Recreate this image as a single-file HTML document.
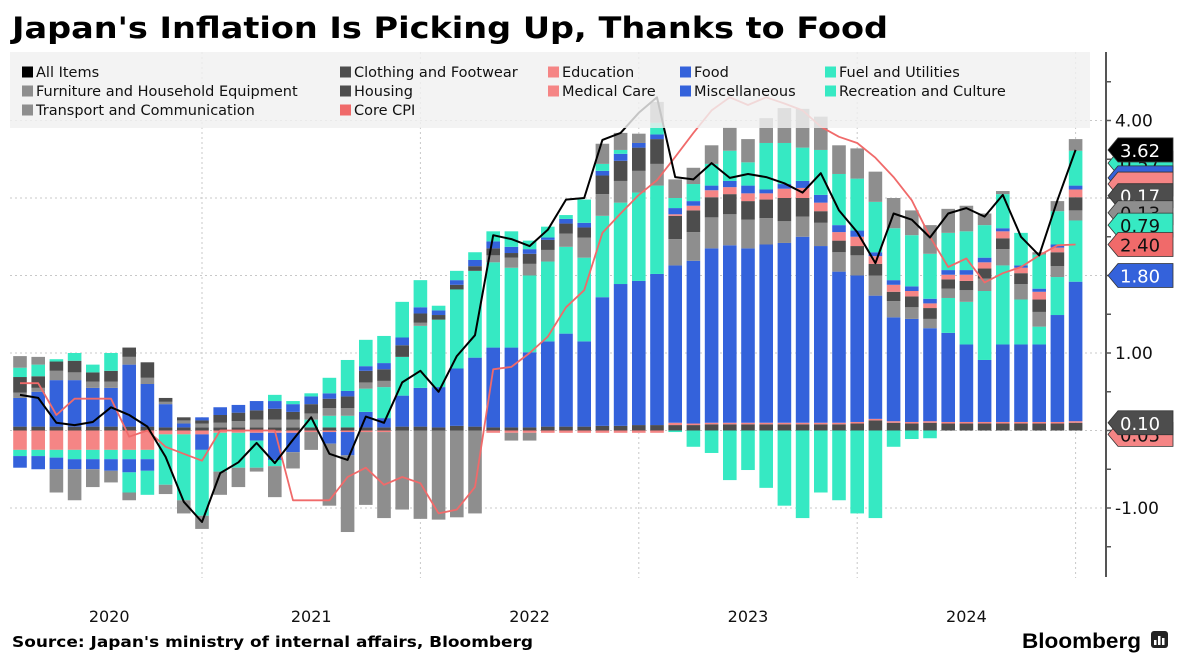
<!DOCTYPE html>
<html><head><meta charset="utf-8"><style>
html,body{margin:0;padding:0;background:#fff;}
svg{display:block;}
</style></head><body>
<svg id="chart" width="1185" height="664" viewBox="0 0 1185 664" xmlns="http://www.w3.org/2000/svg">
<rect x="0" y="0" width="1185" height="664" fill="#fff"/>
<text x="12" y="38" font-family="DejaVu Sans, sans-serif" font-weight="bold" font-size="29" textLength="876" lengthAdjust="spacingAndGlyphs" fill="#000">Japan's Inflation Is Picking Up, Thanks to Food</text>
<g id="grid"></g>
<g id="bars"></g>
<g id="lines"></g>
<g id="legend"></g>
<g id="axis"></g>
<g id="tags"></g>
<text x="12" y="647" font-family="DejaVu Sans, sans-serif" font-weight="bold" font-size="15" textLength="521" lengthAdjust="spacingAndGlyphs" fill="#000">Source: Japan's ministry of internal affairs, Bloomberg</text>
<text x="1022" y="648" font-family="Liberation Sans, sans-serif" font-weight="bold" font-size="21" textLength="119" lengthAdjust="spacingAndGlyphs" fill="#000">Bloomberg</text>
<g>
<rect x="1151" y="631" width="17" height="17" rx="3" fill="#222"/>
<rect x="1154" y="640" width="2.5" height="5" fill="#fff"/><rect x="1158" y="636" width="2.5" height="9" fill="#fff"/><rect x="1162" y="638" width="2.5" height="7" fill="#fff"/>
</g>
</svg>
<script>
const housing   =[.05,.05,.05,.05,.05,.05,.05,.05,.04,.04,.04,.04,.04,.04,.04,.04,.04,.04,.04,.04,.04,.05,.05,.04,.06,.05,.04,.04,.04,.05,.05,.05,.06,.06,.07,.07,.07,.07,.08,.08,.08,.08,.08,.08,.08,.08,.09,.13,.1,.09,.1,.09,.09,.09,.09,.09,.09,.09,.1];
const medical   =[0,0,0,0,0,0,0,0,0,0,0,0,0,0,0,0,0,0,0,0,0,0,0,0,0,0,0,0,0,0,0,0,0,0,0,0,.03,.02,.02,.02,.02,.02,.02,.02,.02,.02,.02,.02,.02,.02,.02,.02,.02,.02,.02,.02,.02,.02,.02];
const education =[-.25,-.25,-.25,-.25,-.25,-.25,-.25,-.25,-.05,-.05,-.05,-.03,-.03,-.03,-.03,-.03,-.02,-.02,-.02,-.02,-.02,0,0,0,0,0,-.03,-.03,-.03,-.03,-.03,-.03,-.03,-.03,-.03,-.03,.02,.06,.09,.09,.1,.08,.12,.13,.11,.11,.12,.1,.09,.07,.06,.06,.08,.08,.09,.07,.1,.06,.1];
const food      =[.37,.45,.6,.6,.5,.5,.8,.55,.3,.05,-.2,0,0,-.1,-.35,-.25,0,-.15,-.3,.2,.12,.4,.5,.52,.74,.89,1.03,1.03,.97,1.1,1.2,1.1,1.66,1.83,1.86,1.95,2.03,2.1,2.25,2.29,2.25,2.3,2.32,2.4,2.28,1.95,1.89,1.59,1.34,1.33,1.2,1.15,1.0,.8,1.0,1.0,1.0,1.38,1.8];
const fuel      =[-.08,-.08,-.1,-.12,-.12,-.12,-.12,-.12,-.65,-.85,-.85,-.5,-.45,-.35,-.08,0,.1,.15,.15,.3,.4,.5,.8,.87,1.02,1.12,1.1,1.03,.99,1.03,1.12,1.08,1.05,1.05,1.14,1.14,-.02,-.21,-.29,-.64,-.51,-.74,-.97,-1.13,-.8,-.9,-1.07,-1.13,-.21,-.11,-.1,.45,.55,.89,1.02,.58,.23,.49,.79];
const furniture =[.07,.05,.12,.1,.08,.08,.1,.08,.03,.04,.05,.06,.08,.1,.1,.1,.08,.1,.1,.08,.08,0,.04,0,0,0,.09,.13,.15,.15,.17,.26,.28,.28,.28,.28,.34,.37,.4,.4,.37,.34,.28,.26,.3,.25,.26,.26,.21,.15,.12,.12,.15,.16,.21,.2,.19,.14,.13];
const clothing  =[.2,.15,.12,.15,.12,.14,.12,.2,.05,.04,.04,.1,.11,.12,.14,.1,.12,.12,.15,.15,.15,.15,.12,.06,.06,.06,.09,.06,.13,.13,.13,.13,.24,.26,.3,.32,.3,.28,.26,.26,.24,.24,.3,.24,.15,.15,.12,.15,.12,.14,.14,.12,.12,.13,.14,.14,.16,.18,.17];
const misc      =[-.15,-.17,-.15,-.13,-.13,-.15,-.17,-.15,0,0,.04,.1,.1,.12,.1,.1,.1,.07,.07,.06,.08,.1,.08,.06,.06,.08,.09,.08,.06,.03,.06,.06,.06,.09,.06,.06,.08,.06,.06,.08,.1,.05,.06,.09,.1,.09,.08,.05,.06,.06,.06,.06,.06,.06,.04,.03,.04,.04,.05];
const recreation=[.12,.15,.03,.1,.1,.23,-.26,-.31,0,0,0,0,0,0,.08,.04,.04,.2,.4,.34,.35,.46,.35,.06,.12,.1,.13,.2,.11,.14,.05,.3,.09,.05,0,.15,.13,.22,.28,.39,.3,.6,.53,.43,.58,.66,.67,.65,.67,.66,.58,.48,.5,.42,.44,.42,.44,.43,.45];
const transport =[.15,.1,-.3,-.4,-.23,-.15,-.1,0,-.12,-.17,-.17,-.3,-.25,-.05,-.4,-.21,-.23,-.8,-.99,-.94,-1.11,-1.02,-1.14,-1.15,-1.12,-1.07,0,-.1,-.1,0,0,0,.26,.22,.12,.27,.24,.21,.24,.3,.3,.32,.45,.5,.43,.37,.39,.39,.39,.32,.37,.31,.33,.15,.04,0,.03,.13,.15];
const allItems  =[.46,.42,.1,.07,.11,.3,.2,.05,-.34,-.92,-1.18,-.55,-.41,-.16,-.42,-.12,.17,-.3,-.38,.18,.1,.62,.77,.5,.96,1.23,2.52,2.47,2.38,2.59,2.98,3.0,3.75,3.84,4.1,4.3,3.27,3.24,3.45,3.26,3.31,3.27,3.19,3.07,3.32,2.84,2.56,2.16,2.8,2.72,2.49,2.8,2.87,2.76,3.04,2.5,2.26,2.97,3.62];
const coreCPI   =[.61,.61,.2,.41,.41,.41,-.08,0,-.21,-.3,-.39,0,0,0,0,-.9,-.9,-.9,-.6,-.48,-.7,-.6,-.68,-1.07,-1.02,-.73,.79,.82,1.0,1.21,1.59,1.81,2.55,2.8,3.04,3.23,3.53,3.84,4.13,4.3,4.2,4.3,4.22,4.13,3.92,3.79,3.71,3.52,3.27,2.97,2.5,2.11,2.22,1.91,2.03,2.11,2.26,2.39,2.4];
const yearLabels=['2020','2021','2022','2023','2024'];
const yearLabelIdx=[4.9,16,28,40,52];
const yearTickIdx=[10,22,34,46,58];
const yTickLabels=['4.00','3.00','2.00','1.00','0.00','-1.00'];
const yTickValues=[4,3,2,1,0,-1];
const tagTexts=['0.05','0.10','0.57','','','0.17','0.13','0.79','2.40','1.80','3.62'];
const tagValues=[-0.05,0.10,3.45,3.26,3.18,3.03,2.81,2.65,2.40,2.00,3.62];

const NS='http://www.w3.org/2000/svg';
const C={black:'#000',grey:'#8e8e8e',dark:'#4d4d4d',salmon:'#f58585',core:'#f06a6a',blue:'#3462db',teal:'#36e9c3'};
const X0=20, DX=18.2, BW=13.6, Y0=430.5, K=77.5;
function xOf(i){return X0+i*DX;}
function yOf(v){return Y0-v*K;}
function mk(tag,attrs,parent){const e=document.createElementNS(NS,tag);for(const k in attrs)e.setAttribute(k,attrs[k]);parent.appendChild(e);return e;}

const series=[
 {name:'housing',data:housing,color:C.dark},
 {name:'medical-care',data:medical,color:C.salmon},
 {name:'education',data:education,color:C.salmon},
 {name:'food',data:food,color:C.blue},
 {name:'fuel-and-utilities',data:fuel,color:C.teal},
 {name:'furniture',data:furniture,color:C.grey},
 {name:'clothing',data:clothing,color:C.dark},
 {name:'miscellaneous',data:misc,color:C.blue},
 {name:'recreation',data:recreation,color:C.teal},
 {name:'transport',data:transport,color:C.grey}];
const posOrder=['housing','medical-care','food','fuel-and-utilities','furniture','clothing','education','miscellaneous','recreation','transport'];
const negOrder=['housing','medical-care','education','food','fuel-and-utilities','furniture','clothing','miscellaneous','recreation','transport'];
const byName={};series.forEach(s=>byName[s.name]=s);

// grid
const grid=document.getElementById('grid');
yTickValues.forEach(v=>{
 const l=mk('line',{x1:10,x2:1105,y1:yOf(v),y2:yOf(v),stroke:'#c8c8c8','stroke-width':1,'stroke-dasharray':'2,3'},grid);
 
 
});
yearTickIdx.forEach(i=>{
 const l=mk('line',{x1:xOf(i),x2:xOf(i),y1:52,y2:578,stroke:'#c8c8c8','stroke-width':1,'stroke-dasharray':'2,3'},grid);
 
 
});
yearLabels.forEach((t,k)=>{
 const e=mk('text',{x:xOf(yearLabelIdx[k]),y:622,'text-anchor':'middle','font-family':'DejaVu Sans, sans-serif','font-size':16,fill:'#111'},grid);
 e.textContent=t;
 
 
});

// bars
const bars=document.getElementById('bars');
for(let i=0;i<housing.length;i++){
 let pb=0;
 posOrder.forEach(n=>{const v=byName[n].data[i]; if(v>0){
  const r=mk('rect',{x:xOf(i)-BW/2,y:yOf(pb+v),width:BW,height:v*K,fill:byName[n].color},bars);
  
  
  pb+=v;}});
 let nb=0;
 negOrder.forEach(n=>{const v=byName[n].data[i]; if(v<0){
  const r=mk('rect',{x:xOf(i)-BW/2,y:yOf(nb),width:BW,height:-v*K,fill:byName[n].color},bars);
  
  
  nb+=v;}});
}

// lines
const lines=document.getElementById('lines');
function path(data){return data.map((v,i)=>(i?'L':'M')+xOf(i).toFixed(1)+','+yOf(v).toFixed(1)).join(' ');}
const cl=mk('path',{d:path(coreCPI),fill:'none',stroke:C.core,'stroke-width':1.8,'stroke-linejoin':'round'},lines);


const al=mk('path',{d:path(allItems),fill:'none',stroke:'#000','stroke-width':2,'stroke-linejoin':'round'},lines);



// legend
const lg=document.getElementById('legend');
const lbg=mk('rect',{x:10,y:52,width:1080,height:76,fill:'#f0f0f0','fill-opacity':0.82},lg);


const legendItems=[
 ['All Items',C.black,22,72],['Clothing and Footwear',C.dark,340,72],['Education',C.salmon,548,72],['Food',C.blue,680,72],['Fuel and Utilities',C.teal,825,72],
 ['Furniture and Household Equipment',C.grey,22,91],['Housing',C.dark,340,91],['Medical Care',C.salmon,548,91],['Miscellaneous',C.blue,680,91],['Recreation and Culture',C.teal,825,91],
 ['Transport and Communication',C.grey,22,110],['Core CPI',C.core,340,110]];
legendItems.forEach(it=>{
 const g=mk('g',{},lg);
 
 
 mk('rect',{x:it[2],y:it[3]-5.5,width:11,height:11,fill:it[1]},g);
 const t=mk('text',{x:it[2]+14,y:it[3]+5,'font-family':'DejaVu Sans, sans-serif','font-size':14.5,fill:'#111'},g);
 t.textContent=it[0];
});

// axis
const ax=document.getElementById('axis');
mk('line',{x1:1106,x2:1106,y1:52,y2:577,stroke:'#555','stroke-width':2},ax);
[4.5,4,3.5,3,2.5,2,1.5,1,.5,0,-.5,-1,-1.5].forEach(v=>{
 mk('line',{x1:1106,x2:1111,y1:yOf(v),y2:yOf(v),stroke:'#555','stroke-width':1.5},ax);
});
yTickLabels.forEach((t,k)=>{
 const e=mk('text',{x:1115,y:yOf(yTickValues[k])+6,'font-family':'DejaVu Sans, sans-serif','font-size':17,fill:'#111'},ax);
 e.textContent=t;
 
 
});

// value tags
const tg=document.getElementById('tags');
const tagColors=[C.salmon,'#4d4d4d',C.teal,C.blue,C.salmon,'#4d4d4d','#8e8e8e',C.teal,C.core,C.blue,'#000'];
const tagTextColors=['#111','#fff','#111','#fff','#111','#fff','#111','#111','#111','#fff','#fff'];
tagTexts.forEach((t,k)=>{
 const y=yOf(tagValues[k]);
 const g=mk('g',{},tg);
 
 
 mk('path',{d:`M1108,${y} L1118,${y-12} L1173,${y-12} L1173,${y+12} L1118,${y+12} Z`,fill:tagColors[k],stroke:'#333','stroke-width':0.8},g);
 const e=mk('text',{x:1120,y:y+7,'font-family':'DejaVu Sans, sans-serif','font-size':18,fill:tagTextColors[k]},g);
 e.textContent=t;
});
</script>
</body></html>
